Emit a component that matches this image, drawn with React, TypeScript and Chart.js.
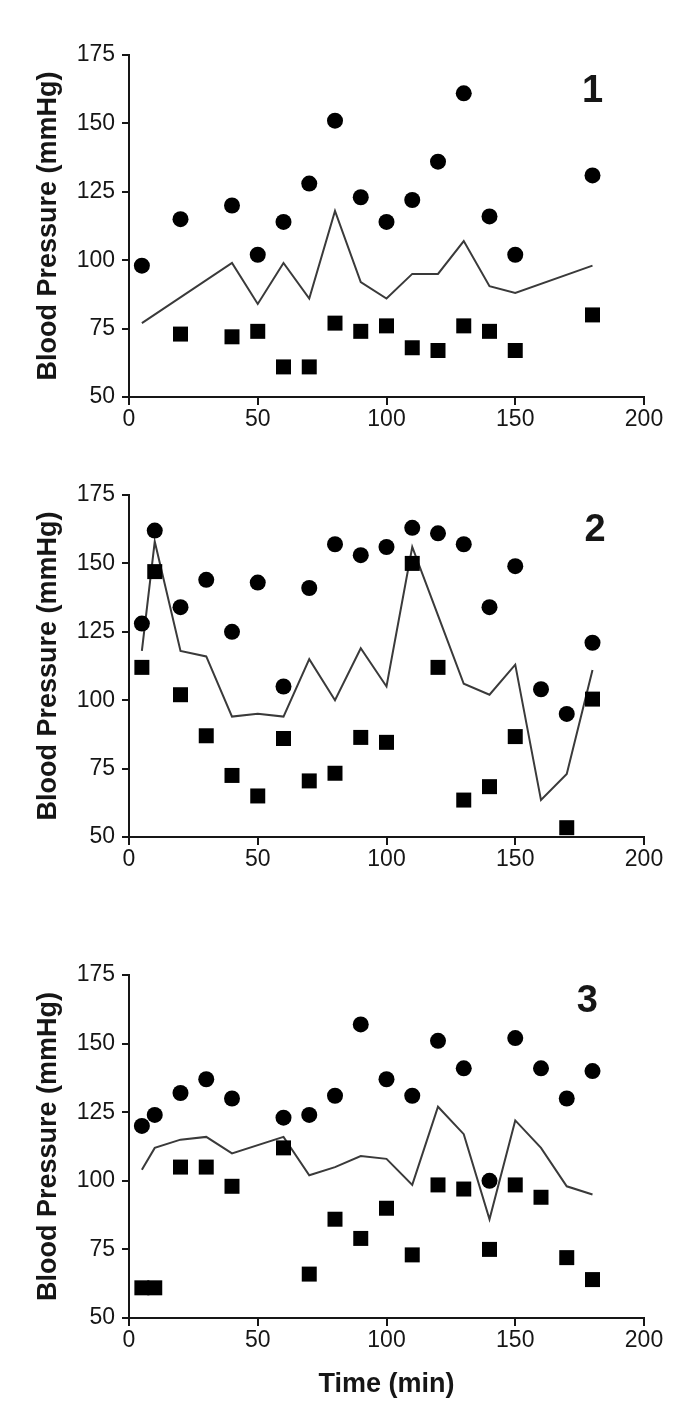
import React, { useEffect, useRef } from 'react';
import { Chart, registerables } from 'chart.js';

Chart.register(...registerables);

// ---------- Panel 1 ----------
const p1SysTime = [5, 20, 40, 50, 60, 70, 80, 90, 100, 110, 120, 130, 140, 150, 180];
const p1Systolic = [98, 115, 120, 102, 114, 128, 151, 123, 114, 122, 136, 161, 116, 102, 131];
const p1DiaTime = [20, 40, 50, 60, 70, 80, 90, 100, 110, 120, 130, 140, 150, 180];
const p1Diastolic = [73, 72, 74, 61, 61, 77, 74, 76, 68, 67, 76, 74, 67, 80];
const p1MeanTime = [5, 40, 50, 60, 70, 80, 90, 100, 110, 120, 130, 140, 150, 180];
const p1Mean = [77, 99, 84, 99, 86, 118, 92, 86, 95, 95, 107, 90.5, 88, 98];

// ---------- Panel 2 ----------
const p2SysTime = [5, 10, 20, 30, 40, 50, 60, 70, 80, 90, 100, 110, 120, 130, 140, 150, 160, 170, 180];
const p2Systolic = [128, 162, 134, 144, 125, 143, 105, 141, 157, 153, 156, 163, 161, 157, 134, 149, 104, 95, 121];
const p2DiaTime = [5, 10, 20, 30, 40, 50, 60, 70, 80, 90, 100, 110, 120, 130, 140, 150, 170, 180];
const p2Diastolic = [112, 147, 102, 87, 72.5, 65, 86, 70.5, 73.3, 86.4, 84.6, 150, 112, 63.5, 68.4, 86.7, 53.4, 100.4];
const p2MeanTime = [5, 10, 20, 30, 40, 50, 60, 70, 80, 90, 100, 110, 120, 130, 140, 150, 160, 170, 180];
const p2Mean = [118, 158, 118, 116, 94, 95, 94, 115, 100, 119, 105, 156, 131, 106, 102, 113, 63.5, 73, 111];

// ---------- Panel 3 ----------
const p3SysTime = [5, 10, 20, 30, 40, 60, 70, 80, 90, 100, 110, 120, 130, 140, 150, 160, 170, 180];
const p3Systolic = [120, 124, 132, 137, 130, 123, 124, 131, 157, 137, 131, 151, 141, 100, 152, 141, 130, 140];
const p3DiaTime = [5, 10, 20, 30, 40, 60, 70, 80, 90, 100, 110, 120, 130, 140, 150, 160, 170, 180];
const p3Diastolic = [61, 61, 105, 105, 98, 112, 66, 86, 79, 90, 73, 98.5, 97, 75, 98.5, 94, 72, 64];
const p3MeanTime = [5, 10, 20, 30, 40, 60, 70, 80, 90, 100, 110, 120, 130, 140, 150, 160, 170, 180];
const p3Mean = [104, 112, 115, 116, 110, 116, 102, 105, 109, 108, 98.5, 127, 117, 86, 122, 112, 98, 95];

// ---------- Axes / labels ----------
const xTickValues = [0, 50, 100, 150, 200];
const yTickValues = [50, 75, 100, 125, 150, 175];
const panelNumbers = ['1', '2', '3'];
const yAxisTitle = 'Blood Pressure (mmHg)';
const xAxisTitle = 'Time (min)';

const FONT = "'Liberation Sans', Arial, Helvetica, sans-serif";
const INK = '#161616';

type PanelDef = {
  top: number;
  height: number;
  areaTop: number;
  areaBottom: number;
  sysT: number[];
  sys: number[];
  diaT: number[];
  dia: number[];
  meanT: number[];
  mean: number[];
  label: string;
  labelX: number;
  labelY: number;
  showXTitle: boolean;
};

const panels: PanelDef[] = [
  { top: 0, height: 470, areaTop: 55, areaBottom: 397, sysT: p1SysTime, sys: p1Systolic, diaT: p1DiaTime, dia: p1Diastolic, meanT: p1MeanTime, mean: p1Mean, label: panelNumbers[0], labelX: 180, labelY: 161.5, showXTitle: false },
  { top: 470, height: 475, areaTop: 25, areaBottom: 367, sysT: p2SysTime, sys: p2Systolic, diaT: p2DiaTime, dia: p2Diastolic, meanT: p2MeanTime, mean: p2Mean, label: panelNumbers[1], labelX: 181, labelY: 162, showXTitle: false },
  { top: 945, height: 471, areaTop: 30, areaBottom: 373, sysT: p3SysTime, sys: p3Systolic, diaT: p3DiaTime, dia: p3Diastolic, meanT: p3MeanTime, mean: p3Mean, label: panelNumbers[2], labelX: 178, labelY: 165.5, showXTitle: true },
];

const WIDTH = 685;

function Panel({ def }: { def: PanelDef }) {
  const ref = useRef<HTMLCanvasElement | null>(null);
  useEffect(() => {
    if (!ref.current) return;
    const toPts = (xs: number[], ys: number[]) => xs.map((x, i) => ({ x, y: ys[i] }));
    const numberPlugin = {
      id: 'panelNumber',
      afterDatasetsDraw(chart: any) {
        const { ctx, scales } = chart;
        ctx.save();
        ctx.font = `bold 38px ${FONT}`;
        ctx.fillStyle = INK;
        ctx.textAlign = 'center';
        ctx.textBaseline = 'middle';
        ctx.fillText(def.label, scales.x.getPixelForValue(def.labelX), scales.y.getPixelForValue(def.labelY));
        ctx.restore();
      },
    };
    const chart = new Chart(ref.current, {
      type: 'scatter',
      data: {
        datasets: [
          {
            label: 'Systolic',
            data: toPts(def.sysT, def.sys),
            pointStyle: 'circle',
            pointRadius: 8,
            backgroundColor: '#000',
            borderColor: '#000',
            borderWidth: 0,
            order: 1,
            clip: false,
          } as any,
          {
            label: 'Diastolic',
            data: toPts(def.diaT, def.dia),
            pointStyle: 'rect',
            pointRadius: 10.6,
            backgroundColor: '#000',
            borderColor: '#000',
            borderWidth: 0,
            order: 2,
            clip: false,
          } as any,
          {
            label: 'Mean',
            data: toPts(def.meanT, def.mean),
            showLine: true,
            pointRadius: 0,
            borderColor: '#3a3a3a',
            borderWidth: 2,
            backgroundColor: '#3a3a3a',
            fill: false,
            tension: 0,
            order: 3,
            clip: false,
          } as any,
        ],
      },
      options: {
        responsive: false,
        animation: false,
        events: [],
        layout: { padding: { top: def.areaTop, right: 41, left: 0, bottom: 0 } },
        plugins: { legend: { display: false }, tooltip: { enabled: false }, title: { display: false } },
        scales: {
          x: {
            type: 'linear',
            min: xTickValues[0],
            max: xTickValues[xTickValues.length - 1],
            afterBuildTicks: (s: any) => { s.ticks = xTickValues.map((v) => ({ value: v })); },
            afterFit: (s: any) => { s.height = def.height - def.areaBottom; },
            border: { display: true, color: INK, width: 2 },
            grid: { display: true, drawOnChartArea: false, drawTicks: true, tickLength: 8, color: INK, lineWidth: 2 },
            ticks: { color: INK, font: { family: FONT, size: 23 }, padding: 1, maxRotation: 0, autoSkip: false },
            title: {
              display: def.showXTitle,
              text: xAxisTitle,
              color: INK,
              font: { family: FONT, size: 27, weight: 'bold' },
              padding: { top: 0, bottom: 15 },
            },
          },
          y: {
            type: 'linear',
            min: yTickValues[0],
            max: yTickValues[yTickValues.length - 1],
            afterBuildTicks: (s: any) => { s.ticks = yTickValues.map((v) => ({ value: v })); },
            afterFit: (s: any) => { s.width = 129; },
            border: { display: true, color: INK, width: 2 },
            grid: { display: true, drawOnChartArea: false, drawTicks: true, tickLength: 7, color: INK, lineWidth: 2 },
            ticks: { color: INK, font: { family: FONT, size: 23 }, padding: 7 },
            title: {
              display: true,
              text: yAxisTitle,
              color: INK,
              font: { family: FONT, size: 27, weight: 'bold' },
              padding: { top: 32, bottom: 0 },
            },
          },
        },
      } as any,
      plugins: [numberPlugin],
    });
    return () => chart.destroy();
  }, [def]);
  return (
    <canvas
      ref={ref}
      width={WIDTH}
      height={def.height}
      style={{ position: 'absolute', left: 0, top: def.top, width: WIDTH, height: def.height, display: 'block' }}
    />
  );
}

export default function App() {
  return (
    <div style={{ position: 'absolute', left: 0, top: 0, width: WIDTH, height: 1416, background: '#fff', overflow: 'hidden' }}>
      {panels.map((p, i) => (
        <Panel key={i} def={p} />
      ))}
    </div>
  );
}
